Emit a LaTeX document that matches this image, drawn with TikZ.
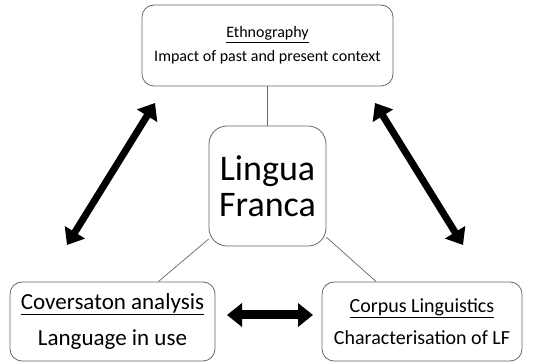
\documentclass[tikz,border=0pt]{standalone}
\usepackage{fontspec}
\setmainfont{Carlito}
\usetikzlibrary{arrows.meta}

\begin{document}
\begin{tikzpicture}[x=1pt,y=-1pt,
    box/.style={draw=black!60, line width=0.8pt, rounded corners=12pt, align=center, inner sep=0pt},
    link/.style={draw=black!60, line width=0.7pt},
    bigarrow/.style={line width=7pt, {Triangle[length=15pt,width=23pt]}-{Triangle[length=15pt,width=23pt]}}]
    \useasboundingbox (0,0) rectangle (539,363);
    \node[box, minimum width=251pt, minimum height=81pt, font=\fontsize{16}{19}\selectfont] (ethno) at (267.5,45.5) {\underline{Ethnography}\\[5pt]Impact of past and present context};
    \node[box, rounded corners=18pt, minimum width=117pt, minimum height=120pt, font=\fontsize{36}{36}\selectfont] (lingua) at (267.5,186) {Lingua\\Franca};
    \node[box, minimum width=205pt, minimum height=79pt, font=\fontsize{23}{27}\selectfont] (conv) at (112.5,321.5) {\underline{Coversaton analysis}\\[9pt]Language in use};
    \node[box, minimum width=200pt, minimum height=79pt, font=\fontsize{20}{24}\selectfont] (corpus) at (422,321.5) {\underline{Corpus Linguistics}\\[8pt]Characterisation of LF};
    \draw[link] (ethno) -- (lingua);
    \draw[link] (lingua.-138) -- (conv.41.3);
    \draw[link] (lingua.-41.6) -- (corpus.139);
    % thick arrows
    \coordinate (lt) at (155,103);
    \coordinate (lb) at (67,245);
    \coordinate (rt) at (375,103);
    \coordinate (rb) at (463,245);
    \coordinate (ml) at (227,315);
    \coordinate (mr) at (313,315);
    \draw[bigarrow] (lt) -- (lb);
    \draw[bigarrow] (rt) -- (rb);
    \draw[bigarrow, line width=9pt] (ml) -- (mr);
\end{tikzpicture}
\end{document}
